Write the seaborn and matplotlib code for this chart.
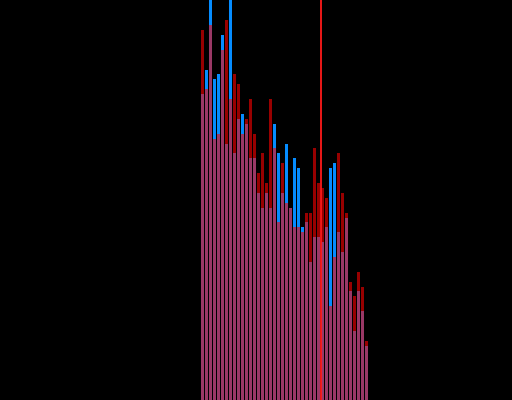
import numpy as np
import pandas as pd
import seaborn as sns
import matplotlib
matplotlib.use("Agg")
import matplotlib.pyplot as plt

# bin left edges (unit-width bins)
bin_start = 50
blue_counts = [62, 67, 84, 65, 66, 74, 52, 85, 50, 57, 58, 56, 49, 49, 42, 39, 42, 39, 56, 50, 42,
               52, 39, 49, 47, 35, 36, 28, 33, 33, 32, 35, 47, 48, 34, 30, 37, 22, 14, 22, 18, 11]
red_counts = [75, 63, 76, 53, 54, 71, 77, 61, 66, 64, 54, 57, 61, 54, 46, 50, 44, 61, 51, 36, 48,
              40, 39, 35, 35, 34, 38, 38, 51, 44, 43, 41, 19, 29, 50, 42, 38, 24, 21, 26, 23, 12]
marker_x = 80

n = len(blue_counts)
centers = bin_start + np.arange(n) + 0.5

df = pd.DataFrame({"x": centers, "blue": blue_counts, "red": red_counts})

fig = plt.figure(figsize=(5.12, 4.0), dpi=100, facecolor="black")
ax = fig.add_axes([0, 0, 1, 1])
ax.set_facecolor("black")

sns.histplot(data=df, x="x", weights="blue", bins=n, binrange=(bin_start, bin_start + n),
             shrink=0.75, color="#058cff", alpha=1.0, linewidth=0, ax=ax)
sns.histplot(data=df, x="x", weights="red", bins=n, binrange=(bin_start, bin_start + n),
             shrink=0.75, color="#ff0000", alpha=0.6, linewidth=0, ax=ax)
ax.axvline(marker_x, color="#ff1a1a", lw=1.3)

ax.set_xlim(-0.125, 127.875)
ax.set_ylim(0, 81.1)
ax.set_xlabel("")
ax.set_ylabel("")
ax.set_xticks([])
ax.set_yticks([])
for s in ax.spines.values():
    s.set_visible(False)

fig.savefig("out.png", dpi=100, facecolor="black")
